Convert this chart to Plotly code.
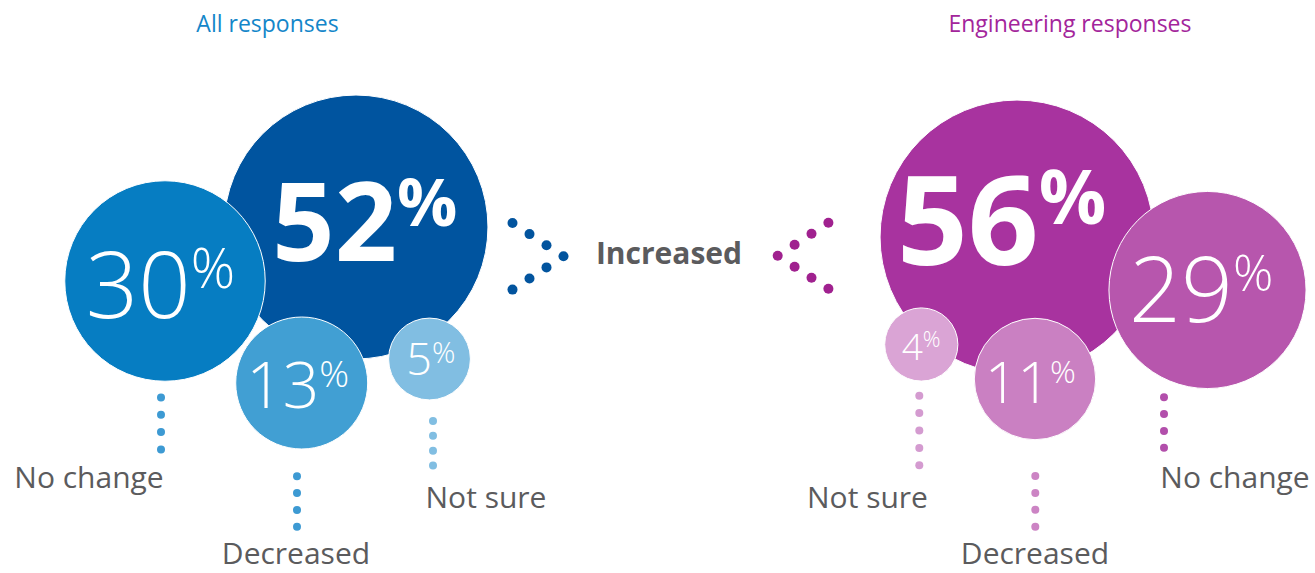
import plotly.graph_objects as go

# ---- data ----
categories = ["Increased", "No change", "Decreased", "Not sure"]
all_values = [52, 30, 13, 5]
eng_values = [56, 29, 11, 4]
panel_titles = ["All responses", "Engineering responses"]
centre_label = "Increased"

# ---- layout / style ----
W, H = 1315, 573
FONT = "Open Sans"
GREY = "#5b5b5d"
RADIUS_K = 18.3  # bubble radius in px = RADIUS_K * sqrt(percent)
MID_SHIFT = 0.107  # plotly puts the baseline 0.25em below y; centre cap height instead

panels = {
    "All responses": dict(
        values=all_values,
        title_pos=(267.5, 23.5),
        title_color="#1386c9",
        arrow=dict(tip=(563.5, 256.3), dx=-17.0, dy=11.1, color="#02549e"),
        colors={"Increased": "#00549f", "No change": "#067dc2",
                "Decreased": "#419fd3", "Not sure": "#81bee2"},
        dot_colors={"No change": "#3d9ad3", "Decreased": "#3d9ad3",
                    "Not sure": "#81bee2"},
        # c: bubble centre; split: x where the figure ends and "%" begins;
        # num / pct: (vertical middle, font size)
        bubbles={
            "Increased": dict(c=(356, 227), split=397, num=(222.4, 109), pct=(202.4, 67)),
            "No change": dict(c=(165, 281), split=190.8, num=(285.3, 92), pct=(268, 55)),
            "Decreased": dict(c=(301.7, 383), split=319.3, num=(384.7, 64), pct=(373.7, 37)),
            "Not sure": dict(c=(429.5, 359), split=432, num=(358.8, 45), pct=(352.2, 29)),
        },
        leaders={
            "No change": dict(x=161, y0=397.5, n=4, step=17.3, label=(89, 477)),
            "Decreased": dict(x=297, y0=476.3, n=4, step=16.8, label=(296, 553.5)),
            "Not sure": dict(x=433, y0=420.9, n=4, step=14.9, label=(486, 497)),
        },
    ),
    "Engineering responses": dict(
        values=eng_values,
        title_pos=(1070, 23.5),
        title_color="#a3259b",
        arrow=dict(tip=(777.7, 255.8), dx=16.9, dy=11.0, color="#a0218f"),
        colors={"Increased": "#a8339f", "No change": "#b756ad",
                "Decreased": "#ca80c2", "Not sure": "#daa4d5"},
        dot_colors={"No change": "#b24fab", "Decreased": "#cc84c4",
                    "Not sure": "#d49bd0"},
        bubbles={
            "Increased": dict(c=(1017, 237), split=1038.7, num=(220.8, 124), pct=(197.5, 75)),
            "No change": dict(c=(1207.5, 290), split=1233, num=(289.2, 91), pct=(273.3, 50)),
            "Decreased": dict(c=(1035, 379), split=1050, num=(382.2, 57), pct=(371.7, 32)),
            "Not sure": dict(c=(921.3, 344.5), split=922.8, num=(346.7, 37), pct=(338.7, 22)),
        },
        leaders={
            "Not sure": dict(x=919.3, y0=395.7, n=5, step=17.4, label=(867.5, 497)),
            "Decreased": dict(x=1035.3, y0=476, n=4, step=16.9, label=(1035, 553.5)),
            "No change": dict(x=1164, y0=397.3, n=4, step=16.8, label=(1235, 477.5)),
        },
    ),
}

fig = go.Figure()


def text_trace(x, y_mid, text, size, color, weight=400, position="middle center"):
    return go.Scatter(
        x=[x], y=[y_mid + MID_SHIFT * size], text=[text], mode="text",
        textposition=position,
        textfont=dict(family=FONT, size=size, color=color, weight=weight),
        hoverinfo="skip", cliponaxis=False, showlegend=False,
    )


for title, p in panels.items():
    # bubbles, drawn largest category first so smaller ones sit on top
    for cat, val in zip(categories, p["values"]):
        b = p["bubbles"][cat]
        r = RADIUS_K * val ** 0.5
        fig.add_trace(go.Scatter(
            x=[b["c"][0]], y=[b["c"][1]], mode="markers",
            marker=dict(size=2 * r, color=p["colors"][cat],
                        line=dict(color="white", width=1)),
            hoverinfo="skip", cliponaxis=False, showlegend=False,
        ))
    # percentage figures inside the bubbles, with a raised "%" sign
    for cat, val in zip(categories, p["values"]):
        b = p["bubbles"][cat]
        weight = 700 if cat == centre_label else 300
        ny, ns = b["num"]
        py, ps = b["pct"]
        fig.add_trace(text_trace(b["split"], ny, f"{val}", ns, "white", weight, "middle left"))
        fig.add_trace(text_trace(b["split"], py, "%", ps, "white", weight, "middle right"))

    # dotted leaders and category labels
    for cat, ld in p["leaders"].items():
        ys = [ld["y0"] + i * ld["step"] for i in range(ld["n"])]
        fig.add_trace(go.Scatter(
            x=[ld["x"]] * ld["n"], y=ys, mode="markers",
            marker=dict(size=8, color=p["dot_colors"][cat]),
            hoverinfo="skip", cliponaxis=False, showlegend=False,
        ))
        lx, ly = ld["label"]
        fig.add_trace(text_trace(lx, ly, cat, 30, GREY))

    # chevron of dots pointing to the shared "Increased" label
    a = p["arrow"]
    tx, ty = a["tip"]
    ax = [tx + a["dx"] * k for k in (3, 2, 1, 0, 1, 2, 3)]
    ay = [ty - a["dy"] * k for k in (3, 2, 1)] + [ty] + [ty + a["dy"] * k for k in (1, 2, 3)]
    fig.add_trace(go.Scatter(
        x=ax, y=ay, mode="markers", marker=dict(size=10, color=a["color"]),
        hoverinfo="skip", cliponaxis=False, showlegend=False,
    ))

    # panel title
    fig.add_trace(text_trace(*p["title_pos"], title, 23, p["title_color"]))

fig.add_trace(text_trace(669, 253.5, centre_label, 30, GREY, 700))

fig.update_layout(
    width=W, height=H,
    margin=dict(l=0, r=0, t=0, b=0),
    paper_bgcolor="white", plot_bgcolor="white",
    xaxis=dict(range=[0, W], visible=False, fixedrange=True),
    yaxis=dict(range=[H, 0], visible=False, fixedrange=True),
    showlegend=False,
)

fig.write_html("out.html")
